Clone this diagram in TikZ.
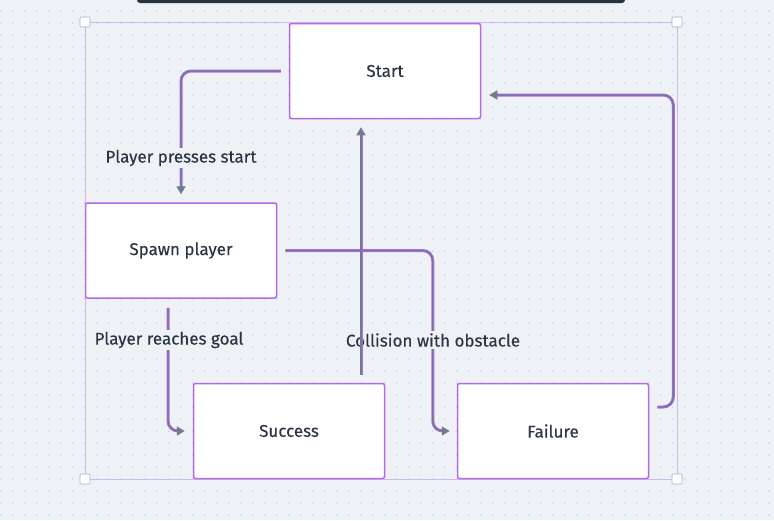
\documentclass[tikz,border=0pt]{standalone}
\usepackage{fontspec}
\setmainfont{Fira Sans}
\newfontfamily\labelfont[FakeBold=0.3]{Fira Sans}
\usetikzlibrary{arrows.meta,positioning}
\definecolor{bg}{HTML}{EEF2F6}
\definecolor{griddot}{HTML}{CDD3DC}
\definecolor{boxline}{HTML}{B36AE8}
\definecolor{wiregrey}{HTML}{6E7C8C}
\definecolor{selline}{HTML}{D2B8F0}
\definecolor{ink}{HTML}{2B3543}
\definecolor{topbar}{HTML}{263340}
\tikzset{
  state/.style={draw=boxline, line width=1.5pt, fill=white, rounded corners=2pt,
    minimum width=191pt, minimum height=95pt, text=ink, font=\labelfont\fontsize{17}{20}\selectfont},
  hl/.style={draw=boxline, line width=3pt, rounded corners=10pt},
  wire/.style={draw=wiregrey, line width=1.4pt, rounded corners=10pt,
    -{Triangle[length=8pt,width=9pt]}},
  lbl/.style={fill=bg, text=ink, inner sep=2pt, font=\labelfont\fontsize{17}{20}\selectfont},
  handle/.style={draw=wiregrey!60, fill=white, line width=0.6pt, rounded corners=1pt}
}
\begin{document}
\begin{tikzpicture}[x=1pt,y=-1pt]
	\useasboundingbox (0,0) rectangle (774,520);
	\fill[bg] (0,0) rectangle (774,520);
	\foreach \x in {0.7,12.7,...,774}
		\foreach \y in {-1,11,...,520}
			\fill[griddot] (\x,\y) circle (0.9pt);
	\fill[topbar, rounded corners=3pt] (137,-6) rectangle (625,3);
	\draw[selline, line width=0.9pt] (85,22) rectangle (677,479);
	% states
	\node[state] (start) at (385,71) {Start};
	\node[state] (spawn) at (181,250.5) {Spawn player};
	\node[state] (success) at (289,431) {Success};
	\node[state] (failure) at (553,431) {Failure};
	% transitions
	\draw[hl, shorten >=5pt] ([xshift=-8pt]start.west) -| ([yshift=8pt]spawn.north);
	\draw[wire] ([xshift=-8pt]start.west) -| ([yshift=8pt]spawn.north);
	\draw[hl, shorten >=5pt] ([xshift=-13pt,yshift=-9pt]spawn.south) |- ([xshift=-8pt]success.west);
	\draw[wire] ([xshift=-13pt,yshift=-9pt]spawn.south) |- ([xshift=-8pt]success.west);
	\draw[hl, shorten >=5pt] ([xshift=8pt]spawn.east) -| ([xshift=-24pt]failure.west) -- ([xshift=-7pt]failure.west);
	\draw[wire] ([xshift=8pt]spawn.east) -| ([xshift=-24pt]failure.west) -- ([xshift=-7pt]failure.west);
	\draw[hl, shorten >=5pt] ([xshift=8pt,yshift=24pt]failure.east) -- ++(16,0) |- ([xshift=8pt,yshift=-24pt]start.east);
	\draw[wire] ([xshift=8pt,yshift=24pt]failure.east) -- ++(16,0) |- ([xshift=8pt,yshift=-24pt]start.east);
	\node[lbl] (l1) at (181,158) {Player presses start};
	\node[lbl] (l2) at (169,340) {Player reaches goal};
	\node[lbl] (l3) at (433,340) {Collision with obstacle};
	\draw[hl, shorten >=5pt] ([xshift=72pt,yshift=8pt]success.north) -- ([xshift=-24pt,yshift=-8pt]start.south);
	\draw[wire] ([xshift=72pt,yshift=8pt]success.north) -- ([xshift=-24pt,yshift=-8pt]start.south);
	% selection handles
	\foreach \x/\y in {85/22, 677/22, 85/479, 677/479}
		\draw[handle] (\x-5,\y-5) rectangle (\x+5,\y+5);
\end{tikzpicture}
\end{document}
